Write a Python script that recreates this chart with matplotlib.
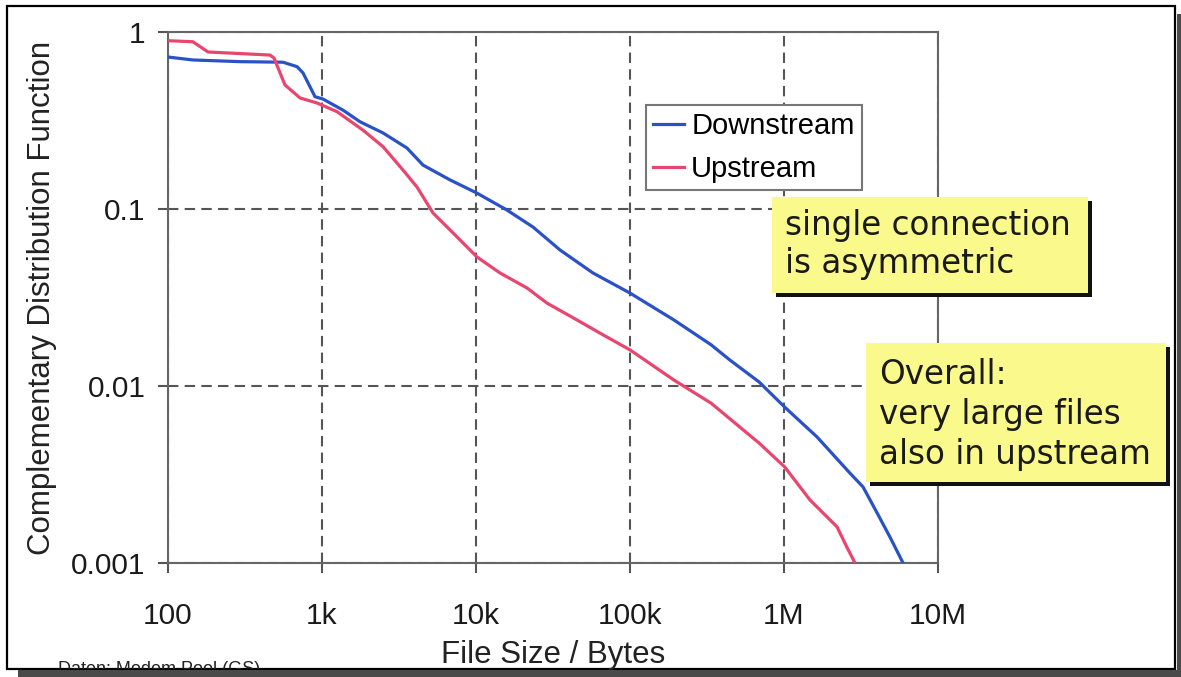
import matplotlib
matplotlib.use("Agg")
import matplotlib.pyplot as plt
from matplotlib.patches import Rectangle
from matplotlib.ticker import FixedLocator, NullLocator

# ---------------- data ----------------
down_x = [100, 145, 294, 558, 689, 753, 901, 1015, 1368, 1766, 2490, 3564, 4529,
          6780, 10140, 15880, 23440, 35100, 57500, 100000, 193000, 336000, 446000,
          689000, 1.01e6, 1.64e6, 2.68e6, 3.26e6, 4.02e6, 4.88e6, 5.93e6]
down_y = [0.722, 0.695, 0.680, 0.675, 0.637, 0.587, 0.431, 0.418, 0.362, 0.311,
          0.269, 0.221, 0.177, 0.146, 0.123, 0.0987, 0.0791, 0.0587, 0.0435,
          0.0335, 0.0236, 0.0171, 0.0140, 0.01054, 0.0076, 0.00515, 0.00322,
          0.00269, 0.00192, 0.00140, 0.001]

up_x = [100, 145, 182, 459, 488, 575, 720, 929, 1250, 1845, 2490, 3357, 4140,
        5260, 7100, 10140, 14320, 21430, 28900, 45300, 63800, 100000, 193000,
        336000, 689000, 1.01e6, 1.475e6, 2.21e6, 2.56e6, 2.89e6]
up_y = [0.893, 0.881, 0.771, 0.741, 0.713, 0.502, 0.424, 0.397, 0.355, 0.279,
        0.225, 0.166, 0.133, 0.0949, 0.0732, 0.0536, 0.0435, 0.0358, 0.0294,
        0.0236, 0.0199, 0.0160, 0.0108, 0.0080, 0.00476, 0.00349, 0.00227,
        0.00160, 0.00123, 0.001]

x_ticks = [100, 1e3, 1e4, 1e5, 1e6, 1e7]
x_tick_labels = ["100", "1k", "10k", "100k", "1M", "10M"]
y_ticks = [0.001, 0.01, 0.1, 1]
y_tick_labels = ["0.001", "0.01", "0.1", "1"]

series_names = ["Downstream", "Upstream"]
note1 = "single connection\nis asymmetric"
note2 = "Overall:\nvery large files\nalso in upstream"
source_text = "Daten: Modem Pool (GS)"

# ---------------- layout helpers ----------------
W, H = 1181, 677
fig = plt.figure(figsize=(W / 100, H / 100), dpi=100)
fig.patch.set_facecolor("white")


def fx(x):
    return x / W


def fy(y):
    return 1 - y / H


def rect_px(x0, y0, x1, y1, **kw):
    r = Rectangle((fx(x0), fy(y1)), fx(x1) - fx(x0), fy(y0) - fy(y1),
                  transform=fig.transFigure, **kw)
    fig.add_artist(r)
    return r


# outer frame with shadow
rect_px(18, 14, 1181, 677, facecolor="#4a4a4a", edgecolor="none", zorder=-20)
rect_px(7, 6, 1177, 671, facecolor="white", edgecolor="none", zorder=-19)
rect_px(7, 6, 1175, 669, facecolor="white", edgecolor="black", lw=1.6, zorder=-18)

# source note (cut off by the frame)
fig.text(fx(58), fy(674), source_text, fontsize=13, family="Liberation Sans",
         color="#222222", ha="left", va="baseline", zorder=-17.5)
# re-cover the part below the border
rect_px(18, 670, 1181, 677, facecolor="#4a4a4a", edgecolor="none", zorder=-17)
rect_px(7, 668.5, 1175, 670, facecolor="black", edgecolor="none", zorder=-16)

# ---------------- axes ----------------
ax_l, ax_r, ax_t, ax_b = 168, 938, 32, 563
ax = fig.add_axes([fx(ax_l), fy(ax_b), fx(ax_r) - fx(ax_l), fy(ax_t) - fy(ax_b)])
ax.set_xscale("log")
ax.set_yscale("log")
ax.set_xlim(100, 1e7)
ax.set_ylim(0.001, 1)

ax.plot(down_x, down_y, color="#2a52c6", lw=2.3, label=series_names[0], zorder=3)
ax.plot(up_x, up_y, color="#e8466e", lw=2.3, label=series_names[1], zorder=3)

ax.xaxis.set_major_locator(FixedLocator(x_ticks))
ax.yaxis.set_major_locator(FixedLocator(y_ticks))
ax.xaxis.set_minor_locator(NullLocator())
ax.yaxis.set_minor_locator(NullLocator())
ax.set_xticklabels(x_tick_labels)
ax.set_yticklabels(y_tick_labels)

for lab in ax.get_xticklabels() + ax.get_yticklabels():
    lab.set_fontfamily("Liberation Sans")
    lab.set_fontsize(21.5)
    lab.set_color("#1a1a1a")
ax.tick_params(axis="both", which="major", direction="out", length=7, width=1.5,
               color="#555555")
ax.tick_params(axis="x", pad=21)
ax.tick_params(axis="y", pad=9)

for s in ax.spines.values():
    s.set_color("#666666")
    s.set_linewidth(1.5)

ax.grid(True, which="major", color="#555555", lw=1.5, linestyle=(0, (5, 3)))
ax.set_axisbelow(True)

ax.set_xlabel("File Size / Bytes", family="Liberation Sans", fontsize=22.5,
              color="#222222")
ax.xaxis.set_label_coords((553 - ax_l) / (ax_r - ax_l), -(655 - ax_b) / (ax_b - ax_t))
ax.xaxis.label.set_va("center")
ax.set_ylabel("Complementary Distribution Function", family="Liberation Sans",
              fontsize=22.5, color="#222222")
ax.yaxis.set_label_coords(-(ax_l - 42) / (ax_r - ax_l), 0.5)
ax.yaxis.label.set_va("center")

leg = ax.legend(loc="upper left",
                bbox_to_anchor=(fx(646), fy(105)), bbox_transform=fig.transFigure,
                borderaxespad=0, fancybox=False, framealpha=1,
                prop=dict(family="Liberation Sans", size=21),
                handlelength=1.05, handletextpad=0.25, borderpad=0.25,
                labelspacing=0.5)
leg.get_frame().set_edgecolor("#777777")
leg.get_frame().set_linewidth(1.5)

# ---------------- annotation boxes ----------------
box_font = dict(family="DejaVu Sans", size=23.5, color="#1a1a1a")

# box 1
rect_px(776, 201, 1092, 297, facecolor="#111111", edgecolor="none", zorder=5)
rect_px(772, 197, 1088, 293, facecolor="#fafa8c", edgecolor="none", zorder=6)
fig.text(fx(785), fy(209), note1, ha="left", va="top", linespacing=1.2,
         zorder=7, **box_font)

# box 2
rect_px(870, 347, 1170, 486, facecolor="#111111", edgecolor="none", zorder=5)
rect_px(866, 343, 1166, 482, facecolor="#fafa8c", edgecolor="none", zorder=6)
fig.text(fx(879), fy(358), note2, ha="left", va="top", linespacing=1.27,
         zorder=7, **box_font)

fig.savefig("out.png", dpi=100)
